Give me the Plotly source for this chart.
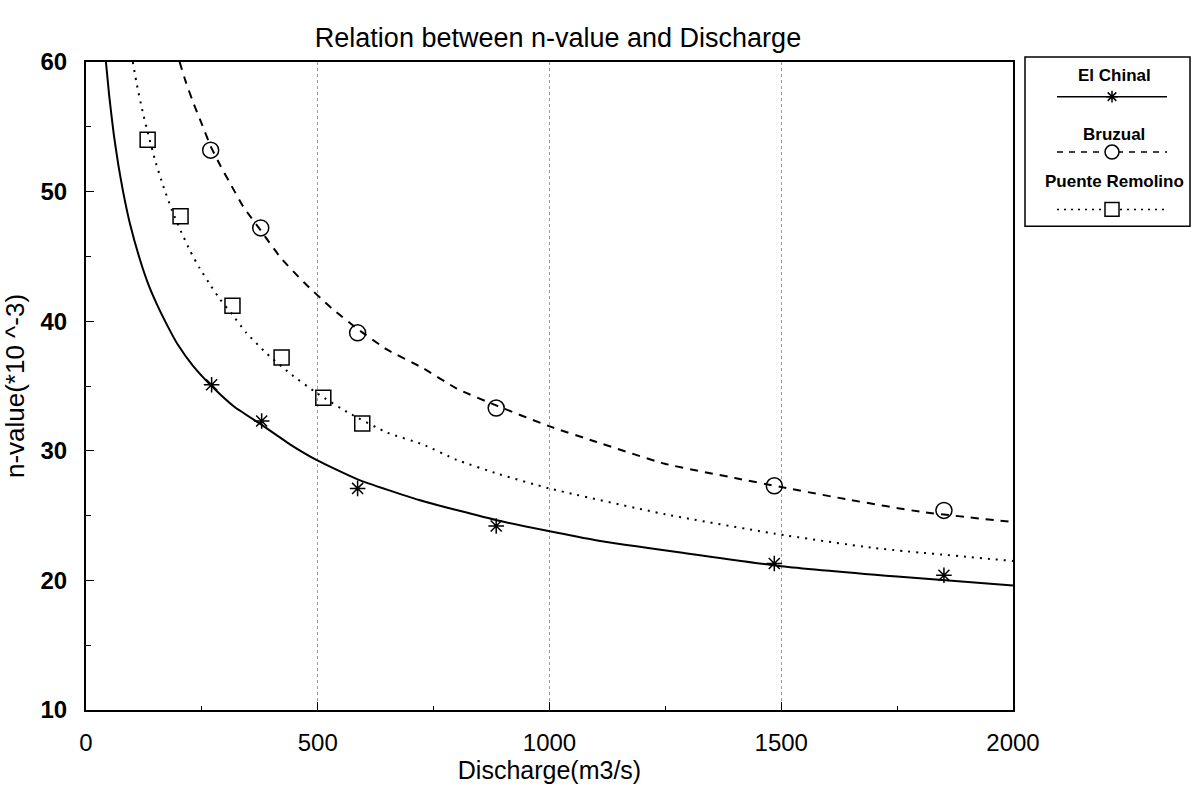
import plotly.graph_objects as go

# ---------------- data ----------------
# measured points
chinal_q = [271, 379, 586, 885, 1485, 1851]
chinal_n = [35.1, 32.3, 27.1, 24.2, 21.3, 20.4]

bruzual_q = [269, 377, 586, 885, 1485, 1851]
bruzual_n = [53.2, 47.2, 39.1, 33.3, 27.3, 25.4]

remolino_q = [133, 204, 316, 422, 512, 596]
remolino_n = [54.0, 48.1, 41.2, 37.2, 34.1, 32.1]

# fitted curves
chinal_curve_q = [43, 50, 60, 70, 80, 95, 116, 135, 153, 175, 198, 230, 271, 320, 379,
                  440, 497, 586, 719, 891, 1100, 1293, 1500, 1750, 2000]
chinal_curve_n = [60.0, 57.4, 54.4, 52.0, 50.0, 47.5, 44.8, 42.8, 41.3, 39.7, 38.2, 36.6, 35.0, 33.4, 32.0,
                  30.5, 29.3, 27.8, 26.2, 24.6, 23.1, 22.1, 21.1, 20.3, 19.6]

bruzual_curve_q = [202, 215, 230, 250, 269, 290, 310, 340, 377, 420, 470, 530, 586, 650, 726,
                   800, 885, 999, 1100, 1249, 1400, 1500, 1650, 1800, 2000]
bruzual_curve_n = [60.0, 58.5, 57.0, 55.2, 53.5, 52.0, 50.7, 48.8, 47.0, 44.9, 43.0, 41.0, 39.4, 37.8, 36.4,
                   34.8, 33.5, 31.9, 30.7, 29.0, 27.9, 27.2, 26.2, 25.3, 24.5]

remolino_curve_q = [101, 110, 122, 133, 150, 166, 185, 204, 225, 245, 270, 289, 316, 346, 390,
                    439, 500, 568, 650, 726, 800, 891, 999, 1250, 1487, 1700, 2000]
remolino_curve_n = [60.0, 58.2, 56.2, 54.6, 52.3, 50.5, 48.6, 47.0, 45.4, 44.1, 42.7, 41.7, 40.5, 39.1, 37.5,
                    36.0, 34.4, 32.9, 31.4, 30.5, 29.3, 28.2, 27.1, 25.1, 23.6, 22.5, 21.5]

series_names = ["El Chinal", "Bruzual", "Puente Remolino"]
x_ticks = [0, 500, 1000, 1500, 2000]
y_ticks = [10, 20, 30, 40, 50, 60]

# ---------------- layout geometry ----------------
W, H = 1192, 791
L, R, T, B = 86, 1013, 62, 717
FONT = "Liberation Sans, Arial, Helvetica, sans-serif"


def px(xp):
    return (xp - L) / (R - L)


def py(yp):
    return (B - yp) / (B - T)


fig = go.Figure()

curve_styles = [
    (chinal_curve_q, chinal_curve_n, "solid"),
    (bruzual_curve_q, bruzual_curve_n, "8px,7px"),
    (remolino_curve_q, remolino_curve_n, "2px,6px"),
]
for (cq, cn, dash), name in zip(curve_styles, series_names):
    fig.add_trace(go.Scatter(
        x=cq, y=cn, mode="lines", name=name, showlegend=False,
        line=dict(color="black", width=2, dash=dash, shape="spline", smoothing=0.5),
        hoverinfo="skip",
    ))

marker_styles = [
    (chinal_q, chinal_n, "asterisk-open", 13),
    (bruzual_q, bruzual_n, "circle-open", 16),
    (remolino_q, remolino_n, "square-open", 15),
]
for (mq, mn, sym, size), name in zip(marker_styles, series_names):
    fig.add_trace(go.Scatter(
        x=mq, y=mn, mode="markers", name=name, showlegend=False,
        marker=dict(symbol=sym, size=size, color="black",
                    line=dict(color="black", width=1.5)),
    ))

# ---------------- custom legend (text above sample line) ----------------
shapes = []
annotations = []
shapes.append(dict(type="rect", xref="paper", yref="paper",
                   x0=px(1025), x1=px(1190), y0=py(228), y1=py(57),
                   line=dict(color="black", width=1.5), fillcolor="white"))
leg_text_y = [76, 135, 183]
leg_line_y = [97, 153, 211]
leg_dash = ["solid", "6px,6px", "2px,5px"]
cx = 1112
for name, ty, ly, dash in zip(series_names, leg_text_y, leg_line_y, leg_dash):
    annotations.append(dict(text=name, xref="paper", yref="paper", x=px(cx + 2), y=py(ty),
                            showarrow=False, xanchor="center", yanchor="middle",
                            font=dict(family=FONT, size=17, color="black", weight="bold")))
    shapes.append(dict(type="line", xref="paper", yref="paper",
                       x0=px(1057), x1=px(1167), y0=py(ly), y1=py(ly),
                       line=dict(color="black", width=1.5, dash=dash)))

# asterisk sample
ay = leg_line_y[0]
r = 6
path = (f"M{px(cx - r)},{py(ay)} L{px(cx + r)},{py(ay)} "
        f"M{px(cx)},{py(ay - r)} L{px(cx)},{py(ay + r)} "
        f"M{px(cx - 4.3)},{py(ay - 4.3)} L{px(cx + 4.3)},{py(ay + 4.3)} "
        f"M{px(cx - 4.3)},{py(ay + 4.3)} L{px(cx + 4.3)},{py(ay - 4.3)}")
shapes.append(dict(type="path", xref="paper", yref="paper", path=path,
                   line=dict(color="black", width=1.5)))
# circle sample
by = leg_line_y[1]
shapes.append(dict(type="circle", xref="paper", yref="paper",
                   x0=px(cx - 7), x1=px(cx + 7), y0=py(by + 7), y1=py(by - 7),
                   line=dict(color="black", width=1.5), fillcolor="white"))
# square sample
sy = leg_line_y[2]
shapes.append(dict(type="rect", xref="paper", yref="paper",
                   x0=px(cx - 7), x1=px(cx + 7), y0=py(sy + 7), y1=py(sy - 7),
                   line=dict(color="black", width=1.5), fillcolor="white"))

fig.update_layout(
    width=W, height=H,
    margin=dict(l=L, r=W - R, t=T, b=H - B),
    paper_bgcolor="white", plot_bgcolor="white",
    title=dict(text="Relation between n-value and Discharge", x=558 / W,
               xanchor="center", y=1 - 38 / H, yanchor="middle",
               font=dict(family=FONT, size=27, color="black")),
    font=dict(family=FONT, color="black"),
    showlegend=False,
    shapes=shapes,
    annotations=annotations,
)

fig.update_xaxes(
    range=[0, 2000], tickvals=x_ticks, ticktext=[str(v) for v in x_ticks],
    showline=True, linecolor="black", linewidth=1.5, mirror=True,
    ticks="inside", ticklen=8, tickcolor="black", tickwidth=1,
    minor=dict(dtick=250, ticks="inside", ticklen=4, tickcolor="black", showgrid=False),
    showgrid=True, gridcolor="#999999", griddash="dot", gridwidth=1,
    zeroline=False, ticklabelstandoff=10,
    tickfont=dict(family=FONT, size=24, color="black"),
    title=dict(text="Discharge(m3/s)", font=dict(family=FONT, size=25, color="black"), standoff=6),
)
fig.update_yaxes(
    range=[10, 60], tickvals=y_ticks, ticktext=[str(v) for v in y_ticks],
    showline=True, linecolor="black", linewidth=2, mirror=True,
    ticks="inside", ticklen=8, tickcolor="black", tickwidth=1,
    minor=dict(dtick=5, ticks="inside", ticklen=5, tickcolor="black", showgrid=False),
    showgrid=False, zeroline=False, ticklabelstandoff=12,
    tickfont=dict(family=FONT, size=24, color="black", weight="bold"),
    title=dict(text="n-value(*10 ^-3)", font=dict(family=FONT, size=26, color="black"), standoff=8),
)

fig.write_html("out.html")
